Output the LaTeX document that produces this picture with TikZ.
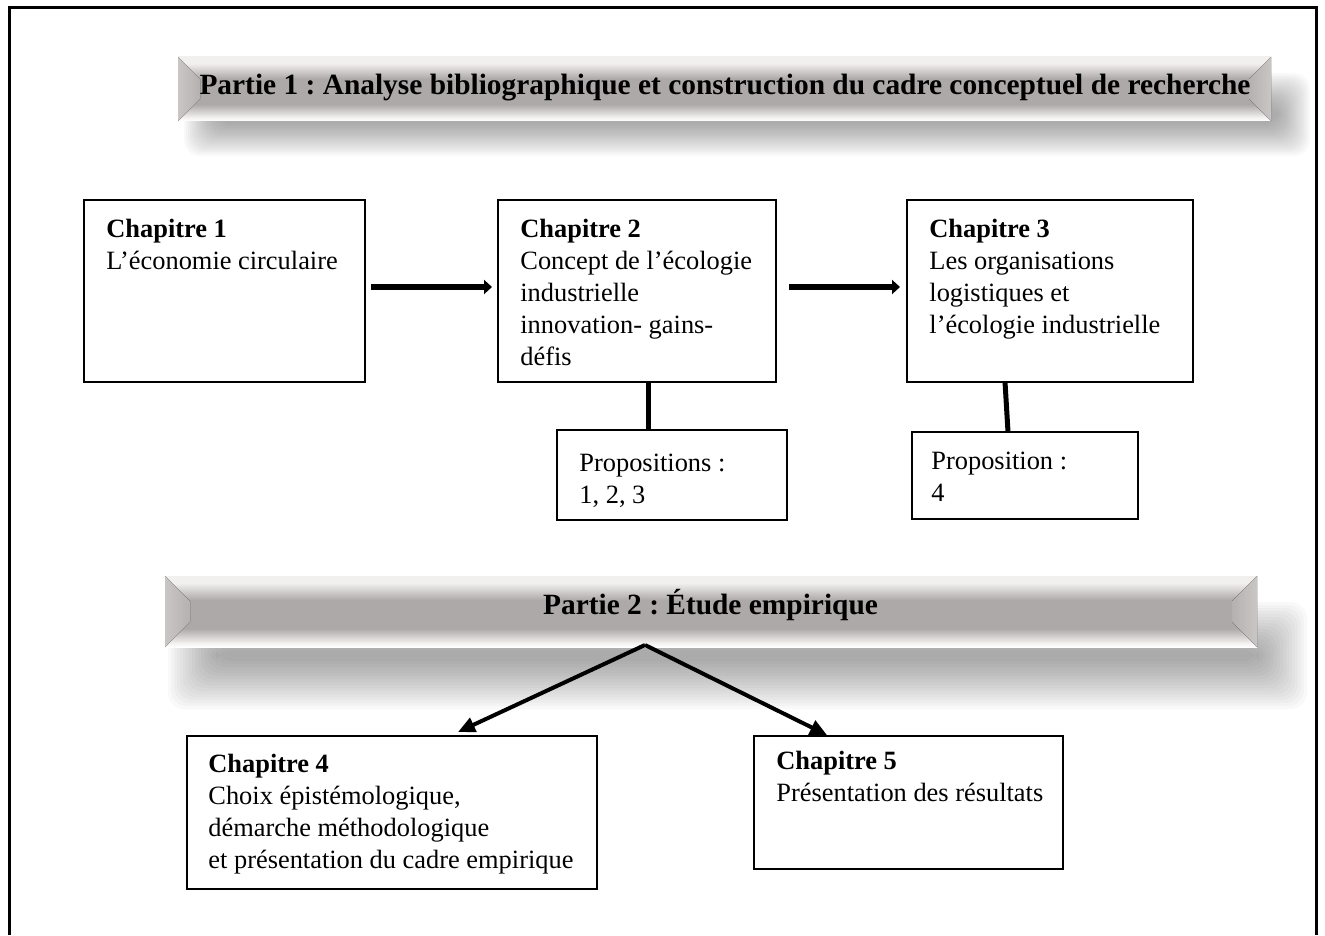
\documentclass[tikz,border=0pt]{standalone}
\usepackage{fontspec}
\setmainfont{Liberation Serif}
\usetikzlibrary{arrows.meta}
\frenchspacing
\definecolor{bgray}{HTML}{ADA9A9}
\definecolor{blight}{HTML}{F2EFEF}
\definecolor{bevL}{HTML}{CAC6C6}
\definecolor{bevR}{HTML}{B5B1B1}
\pgfdeclareverticalshading{bannershade}{100bp}{color(0bp)=(white); color(25bp)=(white); color(28bp)=(blight); color(38bp)=(bgray); color(58bp)=(bgray); color(70bp)=(blight); color(75bp)=(blight); color(100bp)=(blight)}
\begin{document}
\begin{tikzpicture}[x=0.5pt,y=-0.5pt,
  box/.style={draw, line width=0.75pt, anchor=north west, inner sep=0pt, outer sep=0pt},
  txt/.style={anchor=north west, inner sep=0pt, align=left, font=\fontsize{13.2}{16}\selectfont},
  btxt/.style={inner sep=0pt, anchor=base, font=\fontsize{14.7}{17}\selectfont\bfseries},
  banner/.style={shade, shading=bannershade, inner sep=0pt, outer sep=0pt},
  harrow/.style={line width=3pt, -{Triangle[length=4pt,width=7pt]}},
  darrow/.style={line width=2pt, -{Triangle[length=8.5pt,width=7.5pt]}},
  vline/.style={line width=2.5pt},
  bevel/.style={left color=bevL, right color=bevR},
  bevelr/.style={left color=bevR, right color=bevL},
  shadowlayer/.style={fill=black, opacity=0.0235, rounded corners=8pt}
]
\useasboundingbox (0,0) rectangle (1325,935);
% outer frame
\draw[line width=1.5pt] (9,935) -- (9,8) -- (1316,8) -- (1316,935);

% banner 1 shadow
\foreach \e in {16,14,...,-16}
  \fill[shadowlayer] ({200-(\e)},{89-(\e)}) rectangle ({1294+(\e)},{140+(\e)});
% banner 2 shadow
\foreach \e in {24,21,...,-24}
  \fill[shadowlayer] ({192-(\e)},{626-(\e)}) rectangle ({1283+(\e)},{685+(\e)});

% banners
\node[banner, minimum width=546.5pt, minimum height=32pt] (b1) at (724.5,89) {};
\fill[bevel] (178,57) -- (200,79) -- (200,99) -- (178,121) -- cycle;
\fill[bevelr] (1271,57) -- (1249,79) -- (1249,99) -- (1271,121) -- cycle;
\node[btxt] (b1t) at (725,95) {Partie 1 : Analyse bibliographique et construction du cadre conceptuel de recherche};

\node[banner, minimum width=546pt, minimum height=35.5pt] (b2) at (711,611.5) {};
\fill[bevel] (165,576) -- (190,601) -- (190,622) -- (165,647) -- cycle;
\fill[bevelr] (1257,576) -- (1232,601) -- (1232,622) -- (1257,647) -- cycle;
\node[btxt] (b2t) at (710.5,614) {Partie 2 : Étude empirique};

% boxes
\node[box, minimum width=140.5pt, minimum height=91pt] (ch1) at (84,200) {};
\node[box, minimum width=139pt, minimum height=91pt] (ch2) at (498,200) {};
\node[box, minimum width=143pt, minimum height=91pt] (ch3) at (907,200) {};
\node[box, minimum width=115pt, minimum height=45pt] (p1) at (557,430) {};
\node[box, minimum width=113pt, minimum height=43.5pt] (p2) at (912,432) {};
\node[box, minimum width=205pt, minimum height=76.5pt] (ch4) at (187,736) {};
\node[box, minimum width=154.5pt, minimum height=66.5pt] (ch5) at (754,736) {};

% texts
\node[txt] (ch1t) at ([xshift=11pt,yshift=-9.5pt]ch1.north west) {\textbf{Chapitre 1}\\L’économie circulaire};
\node[txt] (ch2t) at ([xshift=11pt,yshift=-9.5pt]ch2.north west) {\textbf{Chapitre 2}\\Concept de l’écologie\\industrielle\\innovation- gains-\\défis};
\node[txt] (ch3t) at ([xshift=11pt,yshift=-9.5pt]ch3.north west) {\textbf{Chapitre 3}\\Les organisations\\logistiques et\\l’écologie industrielle};
\node[txt] (p1t) at ([xshift=11pt,yshift=-12pt]p1.north west) {Propositions :\\1, 2, 3};
\node[txt] (p2t) at ([xshift=9.5pt,yshift=-10pt]p2.north west) {Proposition :\\4};
\node[txt] (ch4t) at ([xshift=10.5pt,yshift=-9pt]ch4.north west) {\textbf{Chapitre 4}\\Choix épistémologique,\\démarche méthodologique\\et présentation du cadre empirique};
\node[txt] (ch5t) at ([xshift=11pt,yshift=-7.5pt]ch5.north west) {\textbf{Chapitre 5}\\Présentation des résultats};

% connectors
\draw[harrow] ([xshift=3pt,yshift=2pt]ch1.east) -- ([xshift=-3pt,yshift=2pt]ch2.west);
\draw[harrow] ([xshift=6.5pt,yshift=2pt]ch2.east) -- ([xshift=-3.5pt,yshift=2pt]ch3.west);
\draw[vline] ([xshift=5.5pt]ch2.south) -- ([xshift=-12pt]p1.north);
\draw[vline] ([xshift=-22.5pt]ch3.south) -- ([xshift=-8.5pt]p2.north);
\draw[darrow] ([xshift=-33pt,yshift=1pt]b2.south) -- ([xshift=33pt,yshift=2pt]ch4.north);
\draw[darrow] ([xshift=-33pt,yshift=1pt]b2.south) -- ([xshift=-40.75pt,yshift=0.5pt]ch5.north);
\end{tikzpicture}
\end{document}
